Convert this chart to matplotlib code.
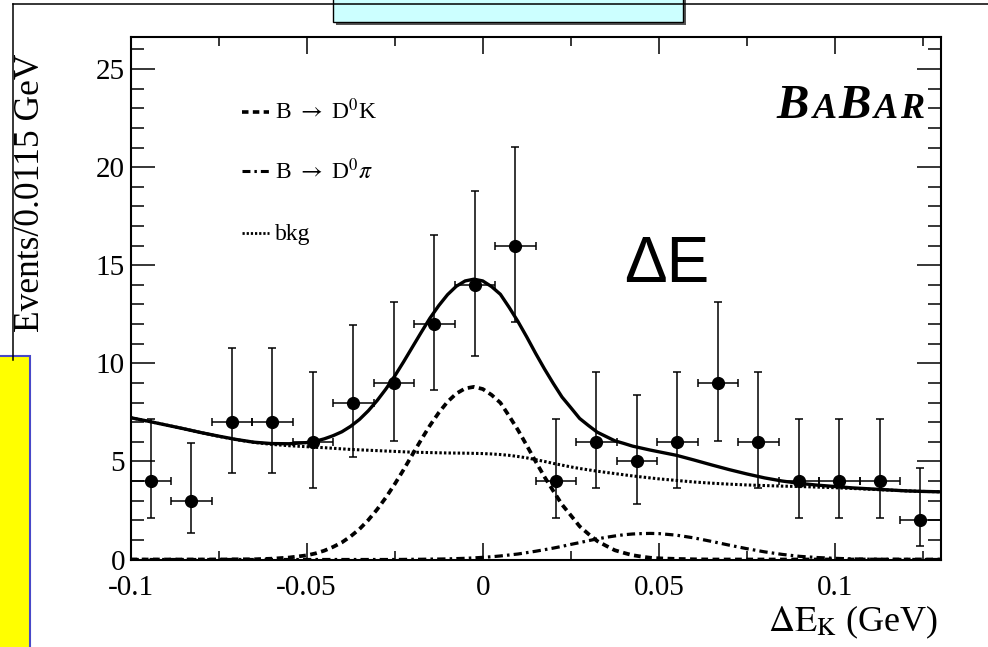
import matplotlib
matplotlib.use("Agg")
import matplotlib.pyplot as plt
from matplotlib.patches import Rectangle
from matplotlib.lines import Line2D
from matplotlib.ticker import MultipleLocator, FuncFormatter

plt.rcParams['font.family'] = ['Liberation Serif', 'DejaVu Serif']
plt.rcParams['mathtext.fontset'] = 'stix'
plt.rcParams['axes.unicode_minus'] = False

# ---- measured spectrum: events per 0.0115 GeV bin ----
bin_width = 0.0115
de_centers = [-0.09425, -0.08275, -0.07125, -0.05975, -0.04825, -0.03675,
              -0.02525, -0.01375, -0.00225, 0.00925, 0.02075, 0.03225,
              0.04375, 0.05525, 0.06675, 0.07825, 0.08975, 0.10125,
              0.11275, 0.12425]
events = [4, 3, 7, 7, 6, 8, 9, 12, 14, 16, 4, 6, 5, 6, 9, 6, 4, 4, 4, 2]
# 68% Poisson interval bounds for each bin
events_lo = [2.09, 1.37, 4.42, 4.42, 3.62, 5.23, 6.06, 8.62, 10.37, 12.13,
             2.09, 3.62, 2.84, 3.62, 6.06, 3.62, 2.09, 2.09, 2.09, 0.71]
events_hi = [7.16, 5.92, 10.77, 10.77, 9.58, 11.95, 13.11, 16.54, 18.80, 21.04,
             7.16, 9.58, 8.38, 9.58, 13.11, 9.58, 7.16, 7.16, 7.16, 4.64]

# ---- fit projections sampled along Delta E (finer steps around the peak) ----
curve_x = [-0.100, -0.095, -0.090, -0.085, -0.080, -0.075, -0.070, -0.065,
           -0.060, -0.055,
           -0.0500, -0.0475, -0.0450, -0.0425, -0.0400, -0.0375, -0.0350,
           -0.0325, -0.0300, -0.0275, -0.0250, -0.0225, -0.0200, -0.0175,
           -0.0150, -0.0125, -0.0100, -0.0075, -0.0050, -0.0025, 0.0000,
           0.0025, 0.0050, 0.0075, 0.0100, 0.0125, 0.0150, 0.0175,
           0.0200, 0.0225, 0.0250, 0.0275, 0.0300, 0.0325, 0.0350,
           0.0375, 0.0400, 0.0425, 0.0450, 0.0475, 0.0500,
           0.055, 0.060, 0.065, 0.070, 0.075, 0.080, 0.085, 0.090,
           0.095, 0.100, 0.105, 0.110, 0.115, 0.120, 0.125, 0.130]
fit_total = [7.23, 7.05, 6.86, 6.67, 6.47, 6.29, 6.12, 5.98,
             5.91, 5.90,
             5.96, 6.03, 6.15, 6.31, 6.51, 6.79, 7.14,
             7.58, 8.10, 8.69, 9.35, 10.07, 10.82, 11.57,
             12.30, 12.94, 13.50, 13.93, 14.20, 14.29, 14.20,
             13.91, 13.52, 12.85, 12.13, 11.34, 10.51, 9.72,
             8.98, 8.28, 7.74, 7.19, 6.83, 6.49, 6.27,
             6.05, 5.92, 5.78, 5.68, 5.58, 5.49,
             5.31, 5.07, 4.82, 4.58, 4.36, 4.16, 4.00, 3.88,
             3.79, 3.72, 3.65, 3.60, 3.55, 3.50, 3.47, 3.45]
fit_dk = [0.0, 0.0, 0.0, 0.0, 0.0, 0.0, 0.01, 0.01,
          0.04, 0.10,
          0.21, 0.31, 0.45, 0.64, 0.87, 1.18, 1.55,
          2.01, 2.55, 3.16, 3.84, 4.57, 5.34, 6.10,
          6.83, 7.48, 8.04, 8.46, 8.72, 8.80, 8.69,
          8.39, 7.99, 7.31, 6.60, 5.81, 5.00, 4.22,
          3.50, 2.80, 2.25, 1.69, 1.30, 0.94, 0.70,
          0.47, 0.34, 0.22, 0.15, 0.09, 0.06,
          0.03, 0.01, 0.0, 0.0, 0.0, 0.0, 0.0, 0.0,
          0.0, 0.0, 0.0, 0.0, 0.0, 0.0, 0.0, 0.0]
fit_dpi = [0.0, 0.0, 0.0, 0.0, 0.0, 0.0, 0.0, 0.0,
           0.0, 0.0,
           0.0, 0.0, 0.0, 0.0, 0.0, 0.0, 0.0,
           0.0, 0.0, 0.0, 0.0, 0.005, 0.01, 0.012,
           0.02, 0.024, 0.03, 0.046, 0.06, 0.083, 0.11,
           0.14, 0.18, 0.23, 0.28, 0.35, 0.42, 0.50,
           0.58, 0.67, 0.77, 0.86, 0.96, 1.05, 1.13,
           1.20, 1.26, 1.30, 1.32, 1.33, 1.32,
           1.24, 1.10, 0.92, 0.73, 0.55, 0.39, 0.26, 0.16,
           0.10, 0.06, 0.03, 0.015, 0.007, 0.003, 0.0, 0.0]
fit_bkg = [7.23, 7.05, 6.86, 6.67, 6.47, 6.28, 6.11, 5.97,
           5.87, 5.80,
           5.75, 5.72, 5.70, 5.67, 5.64, 5.61, 5.59,
           5.57, 5.55, 5.53, 5.51, 5.49, 5.47, 5.46,
           5.45, 5.44, 5.43, 5.425, 5.42, 5.41, 5.40,
           5.38, 5.35, 5.31, 5.25, 5.18, 5.09, 5.00,
           4.90, 4.81, 4.72, 4.64, 4.57, 4.50, 4.44,
           4.38, 4.32, 4.26, 4.21, 4.16, 4.11,
           4.03, 3.95, 3.89, 3.84, 3.80, 3.77, 3.74, 3.72,
           3.69, 3.66, 3.62, 3.58, 3.54, 3.50, 3.47, 3.45]

x_ticks_major = 0.05
x_ticks_minor = 0.025
y_ticks_major = 5
y_ticks_minor = 1

W, H = 988, 647
fig = plt.figure(figsize=(W / 100, H / 100), dpi=100)


def fx(x):
    return x / W


def fy(y):
    return 1 - y / H


# ---- slide decorations around the plot ----
fig.add_artist(Line2D([fx(12.7), fx(W + 5)], [fy(4), fy(4)], color='black', lw=1.1))
fig.add_artist(Line2D([fx(12.7), fx(12.7)], [fy(4), fy(360)], color='black', lw=1.1))
fig.add_artist(Rectangle((fx(336), fy(25)), fx(683) - fx(333), fy(-10) - fy(22),
                         facecolor='#555555', edgecolor='none'))
fig.add_artist(Rectangle((fx(333), fy(22)), fx(683) - fx(333), fy(-10) - fy(22),
                         facecolor='#CCFFFF', edgecolor='black', lw=1.0))
fig.add_artist(Rectangle((fx(-5), fy(H + 5)), fx(29.5) - fx(-5), fy(356) - fy(H + 5),
                         facecolor='#FFFF00', edgecolor='#4848C8', lw=1.5))

# ---- main axes ----
left, right, top, bottom = 130.5, 940.7, 36.7, 559.5
ax = fig.add_axes([fx(left), fy(bottom), fx(right) - fx(left), fy(top) - fy(bottom)])
ax.set_xlim(-0.1, 0.13)
ax.set_ylim(0, 26.65)

ax.plot(curve_x, fit_bkg, color='black', lw=2.2, linestyle=(0, (0.8, 0.7)))
ax.plot(curve_x, fit_dk, color='black', lw=2.7, linestyle=(0, (1.8, 1.2)))
ax.plot(curve_x, fit_dpi, color='black', lw=2.3, linestyle=(0, (2.6, 1.3, 0.8, 1.3)))
ax.plot(curve_x, fit_total, color='black', lw=2.4)

yerr = [[v - lo for v, lo in zip(events, events_lo)],
        [hi - v for v, hi in zip(events, events_hi)]]
ax.errorbar(de_centers, events, yerr=yerr, xerr=bin_width / 2, fmt='o',
            color='black', ms=8.5, elinewidth=1.1, capsize=3, capthick=1.1,
            zorder=5)

for sp in ax.spines.values():
    sp.set_linewidth(1.5)

ax.xaxis.set_major_locator(MultipleLocator(x_ticks_major))
ax.xaxis.set_minor_locator(MultipleLocator(x_ticks_minor))
ax.yaxis.set_major_locator(MultipleLocator(y_ticks_major))
ax.yaxis.set_minor_locator(MultipleLocator(y_ticks_minor))
ax.xaxis.set_major_formatter(FuncFormatter(lambda v, p: '%g' % round(v, 6)))
ax.yaxis.set_major_formatter(FuncFormatter(lambda v, p: '%g' % round(v, 6)))

ax.tick_params(axis='both', which='both', direction='in', top=True, right=True,
               width=1.1, labelsize=21)
ax.tick_params(axis='x', which='major', length=12.2, pad=11)
ax.tick_params(axis='x', which='minor', length=6.5)
ax.tick_params(axis='y', which='major', length=17.3, pad=4)
ax.tick_params(axis='y', which='minor', length=9.4)

# axis titles
fig.text(fx(938), fy(631), r'$\Delta\mathrm{E}_{\mathrm{K}}$ (GeV)', fontsize=26,
         ha='right', va='baseline')
fig.text(fx(31), fy(193), 'Events/0.0115 GeV', fontsize=25.5, rotation=90,
         ha='center', va='center')

# legend
leg_items = [
    (r'B $\rightarrow$ D$^{0}$K', (0, (1.8, 1.2)), 2.6, 119, 112),
    (r'B $\rightarrow$ D$^{0}\pi$', (0, (2.6, 1.3, 0.8, 1.3)), 2.2, 179, 171),
    ('bkg', (0, (0.8, 0.7)), 2.0, 240, 233),
]
for label, ls, lw, base, ly in leg_items:
    fig.add_artist(Line2D([fx(242), fx(269)], [fy(ly), fy(ly)], color='black',
                          lw=lw, linestyle=ls))
    fig.text(fx(275), fy(base), label, fontsize=17, ha='left', va='baseline')

# large Delta E caption
fig.text(fx(624), fy(282), 'ΔE', fontsize=46, family='Liberation Sans',
         ha='left', va='baseline')

# experiment logo, letter by letter in small capitals
for letter, xpos, size in [('B', 776, 35), ('A', 813, 26), ('B', 838, 35),
                           ('A', 874, 26), ('R', 900, 26)]:
    fig.text(fx(xpos), fy(118), letter, fontsize=size, fontweight='bold',
             fontstyle='italic', family='Liberation Serif', ha='left',
             va='baseline')

fig.savefig('out.png', dpi=100)
